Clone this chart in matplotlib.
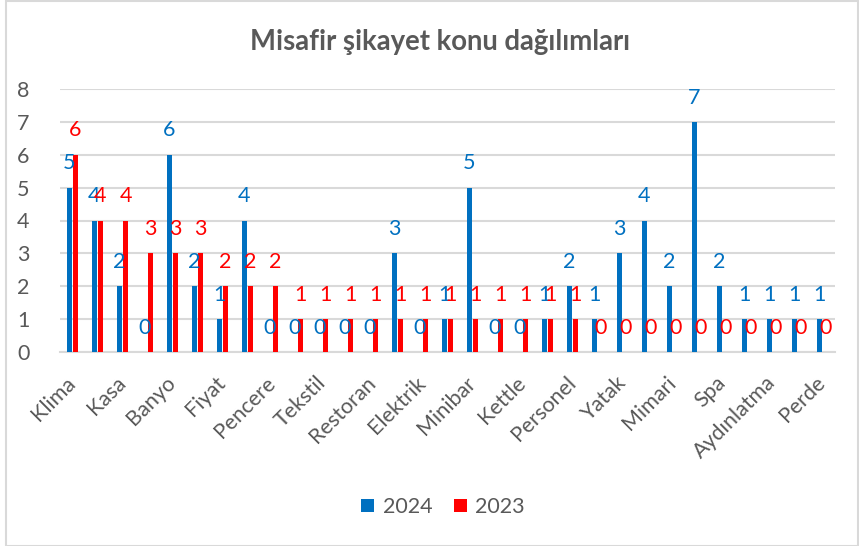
import matplotlib
matplotlib.use("Agg")
import matplotlib.pyplot as plt
import numpy as np
from matplotlib.patches import Rectangle

plt.rcParams['font.family'] = ['Lato', 'DejaVu Sans']

# 31 categories; only every other label is shown in the original chart
categories = ["Klima", "", "Kasa", "", "Banyo", "", "Fiyat", "", "Pencere", "",
              "Tekstil", "", "Restoran", "", "Elektrik", "", "Minibar", "",
              "Kettle", "", "Personel", "", "Yatak", "", "Mimari", "", "Spa", "",
              "Aydınlatma", "", "Perde"]
values_2024 = [5, 4, 2, 0, 6, 2, 1, 4, 0, 0, 0, 0, 0, 3, 0, 1, 5, 0, 0, 1, 2,
               1, 3, 4, 2, 7, 2, 1, 1, 1, 1]
values_2023 = [6, 4, 4, 3, 3, 3, 2, 2, 2, 1, 1, 1, 1, 1, 1, 1, 1, 1, 1, 1, 1,
               0, 0, 0, 0, 0, 0, 0, 0, 0, 0]
series_names = ["2024", "2023"]
title = "Misafir şikayet konu dağılımları"

BLUE = "#0070C0"
RED = "#FF0000"
GRAY = "#595959"
GRID = "#D9D9D9"
FS = 15.5

fig = plt.figure(figsize=(8.59, 5.46), dpi=100)
ax = fig.add_axes([60/859, 1-352/546, 775/859, (352-89)/546])

x = np.arange(len(categories))
w = 0.2
off = 0.12
b1 = ax.bar(x - off, values_2024, w, color=BLUE, label=series_names[0], zorder=3)
b2 = ax.bar(x + off, values_2023, w, color=RED, label=series_names[1], zorder=3)

for bars, vals, col in ((b1, values_2024, BLUE), (b2, values_2023, RED)):
    for rect, v in zip(bars, vals):
        ax.annotate(str(v), (rect.get_x() + rect.get_width()/2, v),
                    xytext=(0, 17.5), textcoords="offset points",
                    ha="center", va="center", fontsize=FS, color=col, zorder=4)

ax.set_xlim(-0.5, len(categories) - 0.5)
ax.set_ylim(0, 8)
ax.set_yticks(range(0, 9))
ax.tick_params(axis='y', length=0, labelsize=FS, labelcolor=GRAY, pad=22)
ax.yaxis.grid(True, color=GRID, linewidth=1.5, zorder=0)
ax.set_axisbelow(True)

shown = [i for i, c in enumerate(categories) if c]
ax.set_xticks(shown)
ax.set_xticklabels([categories[i] for i in shown], rotation=45, ha="right",
                   va="center", rotation_mode="anchor")
ax.tick_params(axis='x', length=0, labelsize=FS, labelcolor=GRAY, pad=20)

for s in ("left", "right", "top"):
    ax.spines[s].set_visible(False)
ax.spines["bottom"].set_color(GRID)
ax.spines["bottom"].set_linewidth(1.5)

fig.text(440/859, 1-42/546, title, ha="center", va="center",
         fontsize=19.8, fontweight="bold", color=GRAY)

fig.legend(handles=[b1, b2], labels=series_names, loc="center",
           bbox_to_anchor=(443/859, 1-507/546), ncol=2, frameon=False,
           fontsize=FS, labelcolor=GRAY, handlelength=0.6, handleheight=0.6,
           handletextpad=0.4, columnspacing=1.0)

fig.add_artist(Rectangle((6/859, 0.5/546), 852/859, 545/546, transform=fig.transFigure,
                         fill=False, edgecolor=GRID, linewidth=1.5))

fig.savefig("out.png", dpi=100)
